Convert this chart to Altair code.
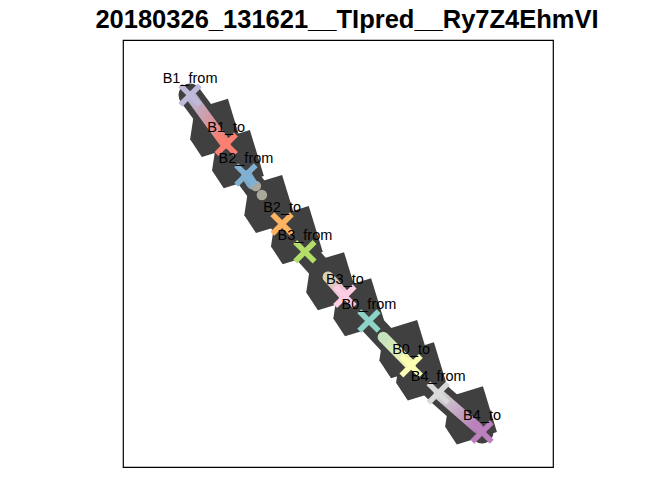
import altair as alt
import pandas as pd

# ---- data (plot units: x 0..10, y 0..10) ----
cross_names = ["B1_from", "B1_to", "B2_from", "B2_to", "B3_from",
               "B3_to", "B0_from", "B0_to", "B4_from", "B4_to"]
cross_x = [1.56, 2.40, 2.86, 3.70, 4.23, 5.16, 5.72, 6.70, 7.33, 8.35]
cross_y = [8.71, 7.56, 6.84, 5.69, 5.04, 4.00, 3.42, 2.37, 1.73, 0.82]
cross_colors = ["#BEBADA", "#FB8072", "#80B1D3", "#FDB462", "#B3DE69",
                "#FCCDE5", "#8DD3C7", "#FFFFB3", "#D9D9D9", "#BC80BD"]

shape_x = [2.07, 2.58, 3.33, 3.95, 4.77, 5.40, 6.47, 6.86, 8.00]
shape_y = [7.92, 7.19, 6.14, 5.41, 4.33, 3.72, 2.74, 2.22, 1.19]
shape_angle = [343, 343, 343, 343, 343, 343, 343, 343, 343]

seg_x1 = [1.60, 2.88, 4.77, 6.05, 7.35]
seg_y1 = [8.66, 6.82, 4.45, 3.04, 1.70]
seg_x2 = [2.38, 3.00, 5.12, 6.68, 8.25]
seg_y2 = [7.58, 6.63, 4.05, 2.40, 0.91]
seg_c1 = ["#BEBADA", "#80B1D3", "#DCCFB2", "#CCEBC5", "#D9D9D9"]
seg_c2 = ["#FB8072", "#80B1D3", "#FCCDE5", "#FFFFB3", "#BC80BD"]

dot_x = [3.09, 3.23, 4.77]
dot_y = [6.58, 6.37, 4.45]
dot_colors = ["#A9A89B", "#A9A89B", "#DCCFB2"]

TITLE = "20180326_131621__TIpred__Ry7Z4EhmVI"

# ---- tables ----
crosses = pd.DataFrame({"name": cross_names, "x": cross_x, "y": cross_y,
                        "color": cross_colors, "order": list(range(len(cross_names)))})
shapes = pd.DataFrame({"x": shape_x, "y": shape_y, "angle": shape_angle})
dots = pd.DataFrame({"x": dot_x, "y": dot_y, "color": dot_colors})

xs = alt.Scale(domain=[0, 10], nice=False, zero=False)
ys = alt.Scale(domain=[0, 10], nice=False, zero=False)
X = lambda f="x": alt.X(f, type="quantitative", scale=xs, axis=None)
Y = lambda f="y": alt.Y(f, type="quantitative", scale=ys, axis=None)

DARK = "#404040"
PENT = "M -0.45 -1 L 1 -1 L 1 1 L -0.75 1 L -1 0.15 Z"
CROSS = ("M -1 -0.2 L 1 -0.2 L 1 0.2 L -1 0.2 Z "
         "M -0.2 -1 L 0.2 -1 L 0.2 1 L -0.2 1 Z")

band = alt.Chart(crosses).mark_line(
    color=DARK, strokeWidth=23, strokeCap="round", strokeJoin="round"
).encode(x=X(), y=Y(), order="order:Q")

shape_layer = alt.Chart(shapes).mark_point(
    shape=PENT, filled=True, color=DARK, opacity=1, size=2300
).encode(x=X(), y=Y(), angle=alt.Angle("angle:Q", scale=None))

seg_layers = []
for i in range(len(seg_x1)):
    sd = pd.DataFrame({"x": [seg_x1[i]], "y": [seg_y1[i]],
                       "x2": [seg_x2[i]], "y2": [seg_y2[i]]})
    grad = alt.LinearGradient(
        gradient="linear",
        stops=[alt.GradientStop(color=seg_c1[i], offset=0),
               alt.GradientStop(color=seg_c2[i], offset=1)],
        x1=0, y1=0, x2=1, y2=1)
    seg_layers.append(
        alt.Chart(sd).mark_rule(stroke=grad, strokeWidth=11, strokeCap="round", opacity=0.95)
        .encode(x=X(), y=Y(), x2="x2:Q", y2="y2:Q"))

dot_layer = alt.Chart(dots).mark_circle(size=110, opacity=1).encode(
    x=X(), y=Y(), color=alt.Color("color:N", scale=None))

cross_layer = alt.Chart(crosses).mark_point(
    shape=CROSS, filled=True, size=760, opacity=1, angle=45
).encode(x=X(), y=Y(), color=alt.Color("color:N", scale=None))

label_layer = alt.Chart(crosses).mark_text(
    font="Liberation Sans", fontSize=14.5, color="black", dy=-12,
    baseline="alphabetic", align="center"
).encode(x=X(), y=Y(), text="name:N")

chart = alt.layer(band, shape_layer, *seg_layers, dot_layer, cross_layer, label_layer).properties(
    width=430, height=427,
    title=alt.TitleParams(TITLE, font="Liberation Sans", fontSize=25.5, fontWeight="bold",
                          anchor="middle", color="black", offset=7, dx=9),
    autosize=alt.AutoSizeParams(type="none"),
    padding={"left": 115, "top": 32, "right": 111, "bottom": 5},
    background="white",
).configure_view(stroke="black", strokeWidth=1.2)

chart.save("out.html", embed_options={"renderer": "svg", "actions": False})
